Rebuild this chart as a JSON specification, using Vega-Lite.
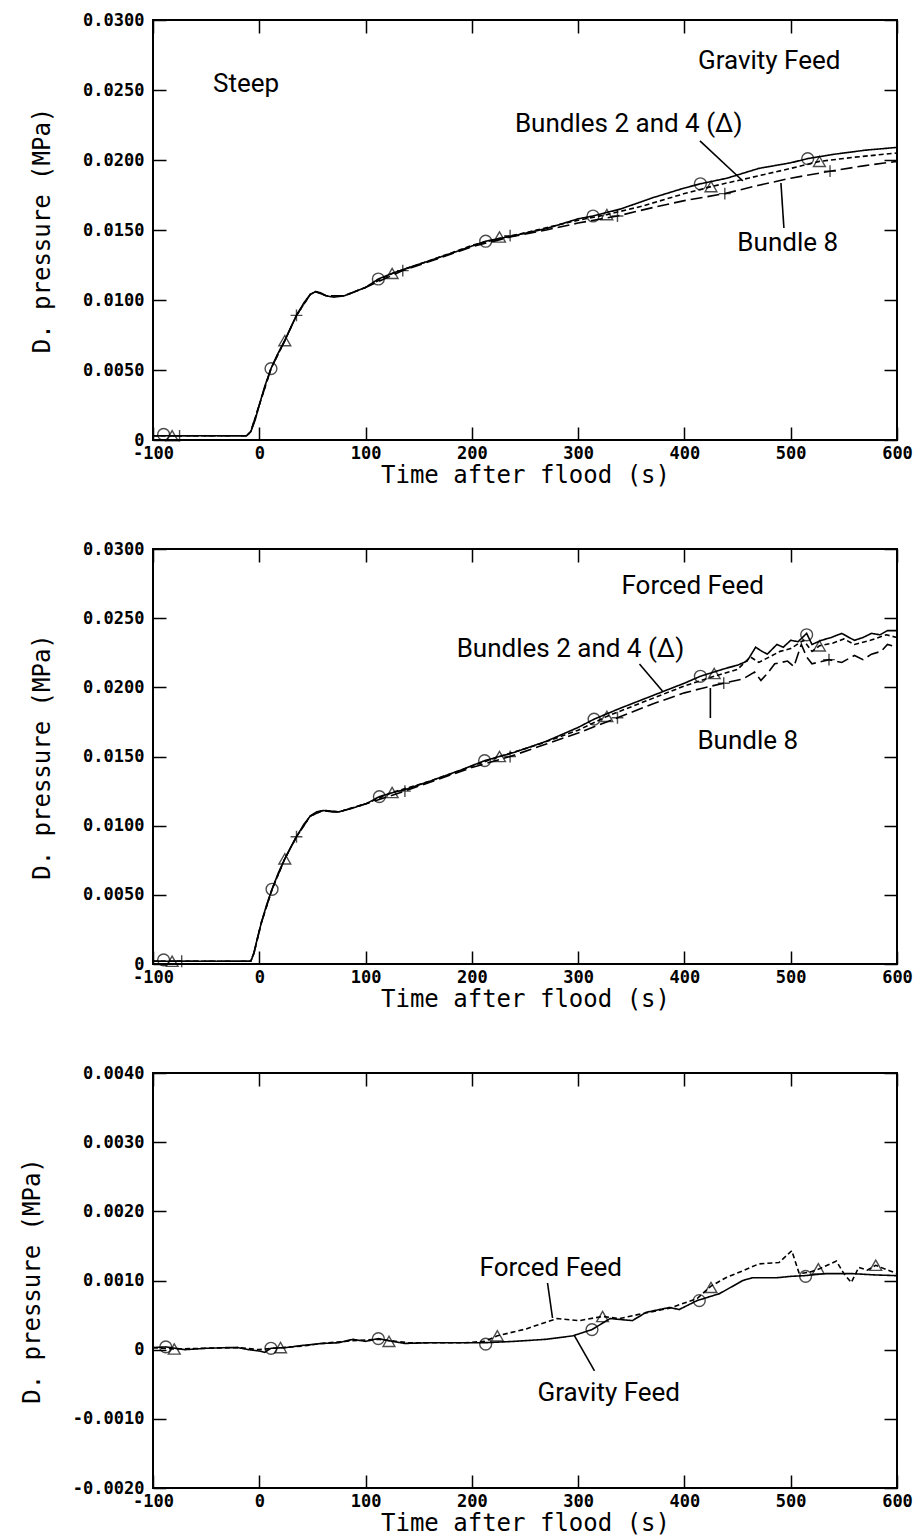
{
  "$schema": "https://vega.github.io/schema/vega-lite/v6.json",
  "background": "white",
  "padding": {"left": 19, "top": 10, "right": 10, "bottom": 10},
  "spacing": 109,
  "bounds": "flush",
  "datasets": {
    "p1lines": [
      {"s": "Bundle 2", "t": -100, "p": 0.0003}, {"s": "Bundle 2", "t": -50, "p": 0.0003}, {"s": "Bundle 2", "t": -12, "p": 0.0003},
      {"s": "Bundle 2", "t": -8, "p": 0.0006}, {"s": "Bundle 2", "t": -4, "p": 0.0014}, {"s": "Bundle 2", "t": 0, "p": 0.0025},
      {"s": "Bundle 2", "t": 5, "p": 0.0038}, {"s": "Bundle 2", "t": 11, "p": 0.0051}, {"s": "Bundle 2", "t": 17, "p": 0.0061},
      {"s": "Bundle 2", "t": 24, "p": 0.0071}, {"s": "Bundle 2", "t": 30, "p": 0.0081}, {"s": "Bundle 2", "t": 35, "p": 0.0089},
      {"s": "Bundle 2", "t": 42, "p": 0.0098}, {"s": "Bundle 2", "t": 48, "p": 0.0104}, {"s": "Bundle 2", "t": 53, "p": 0.0106},
      {"s": "Bundle 2", "t": 58, "p": 0.0105}, {"s": "Bundle 2", "t": 63, "p": 0.0103}, {"s": "Bundle 2", "t": 70, "p": 0.0102},
      {"s": "Bundle 2", "t": 80, "p": 0.0103}, {"s": "Bundle 2", "t": 90, "p": 0.0106}, {"s": "Bundle 2", "t": 100, "p": 0.0109},
      {"s": "Bundle 2", "t": 112, "p": 0.0115}, {"s": "Bundle 2", "t": 125, "p": 0.0119}, {"s": "Bundle 2", "t": 140, "p": 0.0123},
      {"s": "Bundle 2", "t": 160, "p": 0.0128}, {"s": "Bundle 2", "t": 187, "p": 0.0135}, {"s": "Bundle 2", "t": 213, "p": 0.0142},
      {"s": "Bundle 2", "t": 240, "p": 0.0146}, {"s": "Bundle 2", "t": 270, "p": 0.0151}, {"s": "Bundle 2", "t": 300, "p": 0.0158},
      {"s": "Bundle 2", "t": 314, "p": 0.0160}, {"s": "Bundle 2", "t": 340, "p": 0.0165}, {"s": "Bundle 2", "t": 370, "p": 0.0173},
      {"s": "Bundle 2", "t": 400, "p": 0.0180}, {"s": "Bundle 2", "t": 415, "p": 0.0183}, {"s": "Bundle 2", "t": 440, "p": 0.0187},
      {"s": "Bundle 2", "t": 470, "p": 0.0194}, {"s": "Bundle 2", "t": 500, "p": 0.0198}, {"s": "Bundle 2", "t": 516, "p": 0.0201},
      {"s": "Bundle 2", "t": 540, "p": 0.0204}, {"s": "Bundle 2", "t": 570, "p": 0.0207}, {"s": "Bundle 2", "t": 585, "p": 0.0208},
      {"s": "Bundle 2", "t": 600, "p": 0.0209},
      {"s": "Bundle 4", "t": -100, "p": 0.0003}, {"s": "Bundle 4", "t": -12, "p": 0.0003}, {"s": "Bundle 4", "t": -8, "p": 0.0006},
      {"s": "Bundle 4", "t": 0, "p": 0.0025}, {"s": "Bundle 4", "t": 11, "p": 0.0051}, {"s": "Bundle 4", "t": 24, "p": 0.0071},
      {"s": "Bundle 4", "t": 35, "p": 0.0089}, {"s": "Bundle 4", "t": 48, "p": 0.0104}, {"s": "Bundle 4", "t": 53, "p": 0.0106},
      {"s": "Bundle 4", "t": 63, "p": 0.0103}, {"s": "Bundle 4", "t": 80, "p": 0.0103}, {"s": "Bundle 4", "t": 100, "p": 0.0109},
      {"s": "Bundle 4", "t": 125, "p": 0.0119}, {"s": "Bundle 4", "t": 160, "p": 0.0128}, {"s": "Bundle 4", "t": 200, "p": 0.0139},
      {"s": "Bundle 4", "t": 226, "p": 0.0144}, {"s": "Bundle 4", "t": 250, "p": 0.0148}, {"s": "Bundle 4", "t": 300, "p": 0.0157},
      {"s": "Bundle 4", "t": 327, "p": 0.0161}, {"s": "Bundle 4", "t": 360, "p": 0.0167}, {"s": "Bundle 4", "t": 400, "p": 0.0176},
      {"s": "Bundle 4", "t": 425, "p": 0.0181}, {"s": "Bundle 4", "t": 460, "p": 0.0187}, {"s": "Bundle 4", "t": 500, "p": 0.0194},
      {"s": "Bundle 4", "t": 527, "p": 0.0199}, {"s": "Bundle 4", "t": 560, "p": 0.0202}, {"s": "Bundle 4", "t": 600, "p": 0.0205},
      {"s": "Bundle 8", "t": -100, "p": 0.0003}, {"s": "Bundle 8", "t": -12, "p": 0.0003}, {"s": "Bundle 8", "t": -8, "p": 0.0006},
      {"s": "Bundle 8", "t": 0, "p": 0.0025}, {"s": "Bundle 8", "t": 11, "p": 0.0051}, {"s": "Bundle 8", "t": 24, "p": 0.0071},
      {"s": "Bundle 8", "t": 35, "p": 0.0089}, {"s": "Bundle 8", "t": 48, "p": 0.0104}, {"s": "Bundle 8", "t": 53, "p": 0.0106},
      {"s": "Bundle 8", "t": 63, "p": 0.0103}, {"s": "Bundle 8", "t": 80, "p": 0.0103}, {"s": "Bundle 8", "t": 100, "p": 0.0109},
      {"s": "Bundle 8", "t": 135, "p": 0.0121}, {"s": "Bundle 8", "t": 170, "p": 0.0130}, {"s": "Bundle 8", "t": 200, "p": 0.0138},
      {"s": "Bundle 8", "t": 236, "p": 0.0145}, {"s": "Bundle 8", "t": 270, "p": 0.0150}, {"s": "Bundle 8", "t": 300, "p": 0.0155},
      {"s": "Bundle 8", "t": 337, "p": 0.0160}, {"s": "Bundle 8", "t": 370, "p": 0.0166}, {"s": "Bundle 8", "t": 400, "p": 0.0171},
      {"s": "Bundle 8", "t": 438, "p": 0.0176}, {"s": "Bundle 8", "t": 470, "p": 0.0182}, {"s": "Bundle 8", "t": 500, "p": 0.0187},
      {"s": "Bundle 8", "t": 537, "p": 0.0192}, {"s": "Bundle 8", "t": 570, "p": 0.0196}, {"s": "Bundle 8", "t": 600, "p": 0.0199}
    ],
    "p1marks": [
      {"s": "Bundle 2", "t": -90, "p": 0.0004}, {"s": "Bundle 2", "t": 11, "p": 0.0051}, {"s": "Bundle 2", "t": 112, "p": 0.0115},
      {"s": "Bundle 2", "t": 213, "p": 0.0142}, {"s": "Bundle 2", "t": 314, "p": 0.0160}, {"s": "Bundle 2", "t": 415, "p": 0.0183},
      {"s": "Bundle 2", "t": 516, "p": 0.0201},
      {"s": "Bundle 4", "t": -82, "p": 0.0003}, {"s": "Bundle 4", "t": 24, "p": 0.0071}, {"s": "Bundle 4", "t": 125, "p": 0.0119},
      {"s": "Bundle 4", "t": 226, "p": 0.0145}, {"s": "Bundle 4", "t": 327, "p": 0.0161}, {"s": "Bundle 4", "t": 425, "p": 0.0181},
      {"s": "Bundle 4", "t": 527, "p": 0.0199},
      {"s": "Bundle 8", "t": -75, "p": 0.0003}, {"s": "Bundle 8", "t": 35, "p": 0.0089}, {"s": "Bundle 8", "t": 135, "p": 0.0121},
      {"s": "Bundle 8", "t": 236, "p": 0.0146}, {"s": "Bundle 8", "t": 337, "p": 0.0160}, {"s": "Bundle 8", "t": 438, "p": 0.0176},
      {"s": "Bundle 8", "t": 537, "p": 0.0192}
    ],
    "p1text": [
      {"label": "Steep", "t": -43.6, "p": 0.0254},
      {"label": "Gravity Feed", "t": 412.7, "p": 0.0271},
      {"label": "Bundles 2 and 4 (Δ)", "t": 240.5, "p": 0.0226},
      {"label": "Bundle 8", "t": 449.8, "p": 0.0141}
    ],
    "p1lead": [
      {"t": 414.6, "p": 0.02136, "t2": 455, "p2": 0.0185},
      {"t": 490.8, "p": 0.01836, "t2": 493.6, "p2": 0.01514}
    ],
    "p2lines": [
      {"s": "Bundle 2", "t": -100, "p": 0.0002}, {"s": "Bundle 2", "t": -50, "p": 0.0002}, {"s": "Bundle 2", "t": -8, "p": 0.0002},
      {"s": "Bundle 2", "t": -5, "p": 0.0008}, {"s": "Bundle 2", "t": -2, "p": 0.0018}, {"s": "Bundle 2", "t": 2, "p": 0.0030},
      {"s": "Bundle 2", "t": 7, "p": 0.0043}, {"s": "Bundle 2", "t": 12, "p": 0.0054}, {"s": "Bundle 2", "t": 18, "p": 0.0066},
      {"s": "Bundle 2", "t": 24, "p": 0.0076}, {"s": "Bundle 2", "t": 30, "p": 0.0085}, {"s": "Bundle 2", "t": 35, "p": 0.0092},
      {"s": "Bundle 2", "t": 42, "p": 0.0101}, {"s": "Bundle 2", "t": 48, "p": 0.0107}, {"s": "Bundle 2", "t": 54, "p": 0.0110},
      {"s": "Bundle 2", "t": 60, "p": 0.0111}, {"s": "Bundle 2", "t": 68, "p": 0.0110}, {"s": "Bundle 2", "t": 75, "p": 0.0110},
      {"s": "Bundle 2", "t": 85, "p": 0.0112}, {"s": "Bundle 2", "t": 101, "p": 0.0116}, {"s": "Bundle 2", "t": 113, "p": 0.0121},
      {"s": "Bundle 2", "t": 126, "p": 0.0124}, {"s": "Bundle 2", "t": 137, "p": 0.0126}, {"s": "Bundle 2", "t": 160, "p": 0.0132},
      {"s": "Bundle 2", "t": 189, "p": 0.0140}, {"s": "Bundle 2", "t": 212, "p": 0.0147}, {"s": "Bundle 2", "t": 240, "p": 0.0153},
      {"s": "Bundle 2", "t": 270, "p": 0.0161}, {"s": "Bundle 2", "t": 300, "p": 0.0171}, {"s": "Bundle 2", "t": 315, "p": 0.0177},
      {"s": "Bundle 2", "t": 340, "p": 0.0185}, {"s": "Bundle 2", "t": 370, "p": 0.0194}, {"s": "Bundle 2", "t": 400, "p": 0.0203},
      {"s": "Bundle 2", "t": 415, "p": 0.0208}, {"s": "Bundle 2", "t": 440, "p": 0.0214}, {"s": "Bundle 2", "t": 450, "p": 0.0216},
      {"s": "Bundle 2", "t": 459, "p": 0.0219}, {"s": "Bundle 2", "t": 467, "p": 0.0229}, {"s": "Bundle 2", "t": 473, "p": 0.0226},
      {"s": "Bundle 2", "t": 478, "p": 0.0224}, {"s": "Bundle 2", "t": 487, "p": 0.0231}, {"s": "Bundle 2", "t": 493, "p": 0.0229},
      {"s": "Bundle 2", "t": 500, "p": 0.0234}, {"s": "Bundle 2", "t": 507, "p": 0.0233}, {"s": "Bundle 2", "t": 515, "p": 0.0239},
      {"s": "Bundle 2", "t": 520, "p": 0.0231}, {"s": "Bundle 2", "t": 529, "p": 0.0234}, {"s": "Bundle 2", "t": 538, "p": 0.0236},
      {"s": "Bundle 2", "t": 548, "p": 0.0239}, {"s": "Bundle 2", "t": 555, "p": 0.0236}, {"s": "Bundle 2", "t": 560, "p": 0.0234},
      {"s": "Bundle 2", "t": 568, "p": 0.0236}, {"s": "Bundle 2", "t": 576, "p": 0.0239}, {"s": "Bundle 2", "t": 584, "p": 0.0238},
      {"s": "Bundle 2", "t": 591, "p": 0.0241}, {"s": "Bundle 2", "t": 600, "p": 0.0241},
      {"s": "Bundle 4", "t": -100, "p": 0.0002}, {"s": "Bundle 4", "t": -8, "p": 0.0002}, {"s": "Bundle 4", "t": -5, "p": 0.0008},
      {"s": "Bundle 4", "t": 2, "p": 0.0030}, {"s": "Bundle 4", "t": 12, "p": 0.0054}, {"s": "Bundle 4", "t": 24, "p": 0.0076},
      {"s": "Bundle 4", "t": 35, "p": 0.0092}, {"s": "Bundle 4", "t": 48, "p": 0.0107}, {"s": "Bundle 4", "t": 60, "p": 0.0111},
      {"s": "Bundle 4", "t": 75, "p": 0.0110}, {"s": "Bundle 4", "t": 101, "p": 0.0116}, {"s": "Bundle 4", "t": 125, "p": 0.0124},
      {"s": "Bundle 4", "t": 160, "p": 0.0132}, {"s": "Bundle 4", "t": 200, "p": 0.0143}, {"s": "Bundle 4", "t": 226, "p": 0.0150},
      {"s": "Bundle 4", "t": 260, "p": 0.0158}, {"s": "Bundle 4", "t": 300, "p": 0.0169}, {"s": "Bundle 4", "t": 327, "p": 0.0179},
      {"s": "Bundle 4", "t": 360, "p": 0.0189}, {"s": "Bundle 4", "t": 400, "p": 0.0201}, {"s": "Bundle 4", "t": 428, "p": 0.0208},
      {"s": "Bundle 4", "t": 450, "p": 0.0213}, {"s": "Bundle 4", "t": 462, "p": 0.0222}, {"s": "Bundle 4", "t": 470, "p": 0.0218},
      {"s": "Bundle 4", "t": 480, "p": 0.0222}, {"s": "Bundle 4", "t": 490, "p": 0.0226}, {"s": "Bundle 4", "t": 500, "p": 0.0228},
      {"s": "Bundle 4", "t": 512, "p": 0.0234}, {"s": "Bundle 4", "t": 520, "p": 0.0226}, {"s": "Bundle 4", "t": 527, "p": 0.0230},
      {"s": "Bundle 4", "t": 540, "p": 0.0232}, {"s": "Bundle 4", "t": 550, "p": 0.0235}, {"s": "Bundle 4", "t": 560, "p": 0.0231},
      {"s": "Bundle 4", "t": 575, "p": 0.0234}, {"s": "Bundle 4", "t": 590, "p": 0.0238}, {"s": "Bundle 4", "t": 600, "p": 0.0236},
      {"s": "Bundle 8", "t": -100, "p": 0.0002}, {"s": "Bundle 8", "t": -8, "p": 0.0002}, {"s": "Bundle 8", "t": -5, "p": 0.0008},
      {"s": "Bundle 8", "t": 2, "p": 0.0030}, {"s": "Bundle 8", "t": 12, "p": 0.0054}, {"s": "Bundle 8", "t": 24, "p": 0.0076},
      {"s": "Bundle 8", "t": 35, "p": 0.0092}, {"s": "Bundle 8", "t": 48, "p": 0.0107}, {"s": "Bundle 8", "t": 60, "p": 0.0111},
      {"s": "Bundle 8", "t": 75, "p": 0.0110}, {"s": "Bundle 8", "t": 101, "p": 0.0116}, {"s": "Bundle 8", "t": 137, "p": 0.0125},
      {"s": "Bundle 8", "t": 170, "p": 0.0134}, {"s": "Bundle 8", "t": 200, "p": 0.0142}, {"s": "Bundle 8", "t": 236, "p": 0.0150},
      {"s": "Bundle 8", "t": 270, "p": 0.0159}, {"s": "Bundle 8", "t": 300, "p": 0.0167}, {"s": "Bundle 8", "t": 337, "p": 0.0178},
      {"s": "Bundle 8", "t": 370, "p": 0.0188}, {"s": "Bundle 8", "t": 400, "p": 0.0196}, {"s": "Bundle 8", "t": 415, "p": 0.0199},
      {"s": "Bundle 8", "t": 437, "p": 0.0203}, {"s": "Bundle 8", "t": 455, "p": 0.0206}, {"s": "Bundle 8", "t": 466, "p": 0.0211},
      {"s": "Bundle 8", "t": 472, "p": 0.0205}, {"s": "Bundle 8", "t": 478, "p": 0.0210}, {"s": "Bundle 8", "t": 485, "p": 0.0217},
      {"s": "Bundle 8", "t": 497, "p": 0.0219}, {"s": "Bundle 8", "t": 503, "p": 0.0215}, {"s": "Bundle 8", "t": 510, "p": 0.0231},
      {"s": "Bundle 8", "t": 515, "p": 0.0222}, {"s": "Bundle 8", "t": 520, "p": 0.0217}, {"s": "Bundle 8", "t": 536, "p": 0.0220},
      {"s": "Bundle 8", "t": 548, "p": 0.0218}, {"s": "Bundle 8", "t": 560, "p": 0.0223}, {"s": "Bundle 8", "t": 568, "p": 0.0220},
      {"s": "Bundle 8", "t": 576, "p": 0.0224}, {"s": "Bundle 8", "t": 585, "p": 0.0226}, {"s": "Bundle 8", "t": 591, "p": 0.0231},
      {"s": "Bundle 8", "t": 600, "p": 0.0229}
    ],
    "p2marks": [
      {"s": "Bundle 2", "t": -90, "p": 0.0003}, {"s": "Bundle 2", "t": 12, "p": 0.0054}, {"s": "Bundle 2", "t": 113, "p": 0.0121},
      {"s": "Bundle 2", "t": 212, "p": 0.0147}, {"s": "Bundle 2", "t": 315, "p": 0.0177}, {"s": "Bundle 2", "t": 415, "p": 0.0208},
      {"s": "Bundle 2", "t": 515, "p": 0.0238},
      {"s": "Bundle 4", "t": -82, "p": 0.0002}, {"s": "Bundle 4", "t": 24, "p": 0.0076}, {"s": "Bundle 4", "t": 125, "p": 0.0124},
      {"s": "Bundle 4", "t": 226, "p": 0.0150}, {"s": "Bundle 4", "t": 327, "p": 0.0179}, {"s": "Bundle 4", "t": 428, "p": 0.0210},
      {"s": "Bundle 4", "t": 527, "p": 0.0230},
      {"s": "Bundle 8", "t": -73, "p": 0.0002}, {"s": "Bundle 8", "t": 35, "p": 0.0092}, {"s": "Bundle 8", "t": 137, "p": 0.0125},
      {"s": "Bundle 8", "t": 236, "p": 0.0150}, {"s": "Bundle 8", "t": 337, "p": 0.0178}, {"s": "Bundle 8", "t": 437, "p": 0.0203},
      {"s": "Bundle 8", "t": 536, "p": 0.0220}
    ],
    "p2text": [
      {"label": "Forced Feed", "t": 340.8, "p": 0.0273},
      {"label": "Bundles 2 and 4 (Δ)", "t": 185.7, "p": 0.0228},
      {"label": "Bundle 8", "t": 412.2, "p": 0.0161}
    ],
    "p2lead": [
      {"t": 357.7, "p": 0.02169, "t2": 379.3, "p2": 0.01974},
      {"t": 424.4, "p": 0.01995, "t2": 424.4, "p2": 0.01778}
    ],
    "p3lines": [
      {"s": "Gravity Feed", "t": -100, "p": 0.00003}, {"s": "Gravity Feed", "t": -88, "p": 0.00004}, {"s": "Gravity Feed", "t": -70, "p": 0.0},
      {"s": "Gravity Feed", "t": -50, "p": 0.00002}, {"s": "Gravity Feed", "t": -30, "p": 0.00003}, {"s": "Gravity Feed", "t": -20, "p": 0.00003},
      {"s": "Gravity Feed", "t": -10, "p": 0.0}, {"s": "Gravity Feed", "t": 0, "p": -0.00002}, {"s": "Gravity Feed", "t": 5, "p": -0.00004},
      {"s": "Gravity Feed", "t": 11, "p": 0.00002}, {"s": "Gravity Feed", "t": 25, "p": 0.00003}, {"s": "Gravity Feed", "t": 40, "p": 0.00006},
      {"s": "Gravity Feed", "t": 59, "p": 0.00009}, {"s": "Gravity Feed", "t": 75, "p": 0.0001}, {"s": "Gravity Feed", "t": 88, "p": 0.00015},
      {"s": "Gravity Feed", "t": 100, "p": 0.00012}, {"s": "Gravity Feed", "t": 112, "p": 0.00016}, {"s": "Gravity Feed", "t": 125, "p": 0.00012},
      {"s": "Gravity Feed", "t": 137, "p": 0.00009}, {"s": "Gravity Feed", "t": 160, "p": 0.0001}, {"s": "Gravity Feed", "t": 193, "p": 0.0001},
      {"s": "Gravity Feed", "t": 212, "p": 0.0001}, {"s": "Gravity Feed", "t": 240, "p": 0.00012}, {"s": "Gravity Feed", "t": 270, "p": 0.00015},
      {"s": "Gravity Feed", "t": 295, "p": 0.0002}, {"s": "Gravity Feed", "t": 313, "p": 0.00029}, {"s": "Gravity Feed", "t": 330, "p": 0.00045},
      {"s": "Gravity Feed", "t": 351, "p": 0.00042}, {"s": "Gravity Feed", "t": 364, "p": 0.00054}, {"s": "Gravity Feed", "t": 386, "p": 0.00061},
      {"s": "Gravity Feed", "t": 395, "p": 0.00058}, {"s": "Gravity Feed", "t": 412, "p": 0.00071}, {"s": "Gravity Feed", "t": 433, "p": 0.00081},
      {"s": "Gravity Feed", "t": 455, "p": 0.001}, {"s": "Gravity Feed", "t": 464, "p": 0.00104}, {"s": "Gravity Feed", "t": 487, "p": 0.00104},
      {"s": "Gravity Feed", "t": 500, "p": 0.00106}, {"s": "Gravity Feed", "t": 513, "p": 0.00107}, {"s": "Gravity Feed", "t": 533, "p": 0.0011},
      {"s": "Gravity Feed", "t": 557, "p": 0.0011}, {"s": "Gravity Feed", "t": 580, "p": 0.00108}, {"s": "Gravity Feed", "t": 600, "p": 0.00107},
      {"s": "Forced Feed", "t": -100, "p": 0.00003}, {"s": "Forced Feed", "t": -80, "p": 0.00001}, {"s": "Forced Feed", "t": -50, "p": 0.00002},
      {"s": "Forced Feed", "t": -20, "p": 0.00003}, {"s": "Forced Feed", "t": 0, "p": 0.0}, {"s": "Forced Feed", "t": 13, "p": 0.00002},
      {"s": "Forced Feed", "t": 40, "p": 0.00005}, {"s": "Forced Feed", "t": 59, "p": 0.00009}, {"s": "Forced Feed", "t": 88, "p": 0.00013},
      {"s": "Forced Feed", "t": 112, "p": 0.00015}, {"s": "Forced Feed", "t": 140, "p": 0.0001}, {"s": "Forced Feed", "t": 193, "p": 0.0001},
      {"s": "Forced Feed", "t": 212, "p": 0.00012}, {"s": "Forced Feed", "t": 224, "p": 0.0002}, {"s": "Forced Feed", "t": 251, "p": 0.0003},
      {"s": "Forced Feed", "t": 280, "p": 0.00045}, {"s": "Forced Feed", "t": 301, "p": 0.00042}, {"s": "Forced Feed", "t": 323, "p": 0.00048},
      {"s": "Forced Feed", "t": 339, "p": 0.00045}, {"s": "Forced Feed", "t": 360, "p": 0.00052}, {"s": "Forced Feed", "t": 386, "p": 0.0006},
      {"s": "Forced Feed", "t": 412, "p": 0.00074}, {"s": "Forced Feed", "t": 425, "p": 0.00092}, {"s": "Forced Feed", "t": 439, "p": 0.00104},
      {"s": "Forced Feed", "t": 455, "p": 0.00114}, {"s": "Forced Feed", "t": 470, "p": 0.00124}, {"s": "Forced Feed", "t": 489, "p": 0.00126},
      {"s": "Forced Feed", "t": 501, "p": 0.00143}, {"s": "Forced Feed", "t": 508, "p": 0.0011}, {"s": "Forced Feed", "t": 518, "p": 0.00112},
      {"s": "Forced Feed", "t": 527, "p": 0.00117}, {"s": "Forced Feed", "t": 543, "p": 0.00128}, {"s": "Forced Feed", "t": 550, "p": 0.0011},
      {"s": "Forced Feed", "t": 557, "p": 0.00097}, {"s": "Forced Feed", "t": 564, "p": 0.00119}, {"s": "Forced Feed", "t": 572, "p": 0.00115},
      {"s": "Forced Feed", "t": 580, "p": 0.00122}, {"s": "Forced Feed", "t": 593, "p": 0.00114}, {"s": "Forced Feed", "t": 600, "p": 0.0011}
    ],
    "p3marks": [
      {"s": "Gravity Feed", "t": -88, "p": 0.00004}, {"s": "Gravity Feed", "t": 11, "p": 0.00002}, {"s": "Gravity Feed", "t": 112, "p": 0.00016},
      {"s": "Gravity Feed", "t": 213, "p": 0.00008}, {"s": "Gravity Feed", "t": 313, "p": 0.00029}, {"s": "Gravity Feed", "t": 414, "p": 0.00071},
      {"s": "Gravity Feed", "t": 514, "p": 0.00106},
      {"s": "Forced Feed", "t": -80, "p": 0.00001}, {"s": "Forced Feed", "t": 20, "p": 0.00003}, {"s": "Forced Feed", "t": 122, "p": 0.00012},
      {"s": "Forced Feed", "t": 224, "p": 0.0002}, {"s": "Forced Feed", "t": 323, "p": 0.00048}, {"s": "Forced Feed", "t": 425, "p": 0.0009},
      {"s": "Forced Feed", "t": 526, "p": 0.00117}, {"s": "Forced Feed", "t": 580, "p": 0.00122}
    ],
    "p3text": [
      {"label": "Forced Feed", "t": 207.3, "p": 0.00118},
      {"label": "Gravity Feed", "t": 261.8, "p": -0.00063}
    ],
    "p3lead": [
      {"t": 271.2, "p": 0.000964, "t2": 275.9, "p2": 0.000458},
      {"t": 296.6, "p": 0.000198, "t2": 315.4, "p2": -0.000308}
    ]
  },
  "vconcat": [
    {
      "width": 744, "height": 420,
      "resolve": {"axis": {"x": "independent", "y": "independent"}},
      "layer": [
        {
          "data": {"name": "p1lines"},
          "mark": {"type": "line", "color": "black", "strokeWidth": 1.6, "clip": true},
          "encoding": {
            "x": {"field": "t", "type": "quantitative", "scale": {"domain": [-100, 600], "nice": false, "zero": false},
                  "axis": {"orient": "bottom", "values": [-100, 0, 100, 200, 300, 400, 500, 600], "title": "Time after flood (s)", "labelExpr": "replace(datum.label, '−', '-')"}},
            "y": {"field": "p", "type": "quantitative", "scale": {"domain": [0, 0.03], "nice": false, "zero": false},
                  "axis": {"orient": "left", "values": [0, 0.005, 0.01, 0.015, 0.02, 0.025, 0.03], "title": "D. pressure (MPa)", "labelExpr": "datum.value == 0 ? '0' : format(datum.value, '.4f')"}},
            "strokeDash": {"field": "s", "type": "nominal", "scale": {"domain": ["Bundle 2", "Bundle 4", "Bundle 8"], "range": [[1, 0], [5, 3], [12, 5]]}, "legend": null}
          }
        },
        {
          "data": {"name": "p1marks"},
          "mark": {"type": "point", "filled": false, "color": "black", "strokeWidth": 1.4, "size": 140},
          "encoding": {
            "x": {"field": "t", "type": "quantitative", "scale": {"domain": [-100, 600], "nice": false, "zero": false},
                  "axis": {"orient": "top", "values": [-100, 0, 100, 200, 300, 400, 500, 600], "labels": false, "title": null}},
            "y": {"field": "p", "type": "quantitative", "scale": {"domain": [0, 0.03], "nice": false, "zero": false},
                  "axis": {"orient": "right", "values": [0, 0.005, 0.01, 0.015, 0.02, 0.025, 0.03], "labels": false, "title": null}},
            "shape": {"field": "s", "type": "nominal", "scale": {"domain": ["Bundle 2", "Bundle 4", "Bundle 8"], "range": ["circle", "triangle-up", "M-1,0H1M0,-1V1"]}, "legend": null}
          }
        },
        {
          "data": {"name": "p1lead"},
          "mark": {"type": "rule", "color": "black", "strokeWidth": 1.6},
          "encoding": {
            "x": {"field": "t", "type": "quantitative", "axis": null},
            "y": {"field": "p", "type": "quantitative", "axis": null},
            "x2": {"field": "t2"}, "y2": {"field": "p2"}
          }
        },
        {
          "data": {"name": "p1text"},
          "mark": {"type": "text", "align": "left", "baseline": "middle", "font": "Roboto", "fontSize": 26, "color": "black"},
          "encoding": {
            "x": {"field": "t", "type": "quantitative", "axis": null},
            "y": {"field": "p", "type": "quantitative", "axis": null},
            "text": {"field": "label"}
          }
        }
      ]
    },
    {
      "width": 744, "height": 415,
      "resolve": {"axis": {"x": "independent", "y": "independent"}},
      "layer": [
        {
          "data": {"name": "p2lines"},
          "mark": {"type": "line", "color": "black", "strokeWidth": 1.6, "clip": true},
          "encoding": {
            "x": {"field": "t", "type": "quantitative", "scale": {"domain": [-100, 600], "nice": false, "zero": false},
                  "axis": {"orient": "bottom", "values": [-100, 0, 100, 200, 300, 400, 500, 600], "title": "Time after flood (s)", "labelExpr": "replace(datum.label, '−', '-')"}},
            "y": {"field": "p", "type": "quantitative", "scale": {"domain": [0, 0.03], "nice": false, "zero": false},
                  "axis": {"orient": "left", "values": [0, 0.005, 0.01, 0.015, 0.02, 0.025, 0.03], "title": "D. pressure (MPa)", "labelExpr": "datum.value == 0 ? '0' : format(datum.value, '.4f')"}},
            "strokeDash": {"field": "s", "type": "nominal", "scale": {"domain": ["Bundle 2", "Bundle 4", "Bundle 8"], "range": [[1, 0], [5, 3], [12, 5]]}, "legend": null}
          }
        },
        {
          "data": {"name": "p2marks"},
          "mark": {"type": "point", "filled": false, "color": "black", "strokeWidth": 1.4, "size": 140},
          "encoding": {
            "x": {"field": "t", "type": "quantitative", "scale": {"domain": [-100, 600], "nice": false, "zero": false},
                  "axis": {"orient": "top", "values": [-100, 0, 100, 200, 300, 400, 500, 600], "labels": false, "title": null}},
            "y": {"field": "p", "type": "quantitative", "scale": {"domain": [0, 0.03], "nice": false, "zero": false},
                  "axis": {"orient": "right", "values": [0, 0.005, 0.01, 0.015, 0.02, 0.025, 0.03], "labels": false, "title": null}},
            "shape": {"field": "s", "type": "nominal", "scale": {"domain": ["Bundle 2", "Bundle 4", "Bundle 8"], "range": ["circle", "triangle-up", "M-1,0H1M0,-1V1"]}, "legend": null}
          }
        },
        {
          "data": {"name": "p2lead"},
          "mark": {"type": "rule", "color": "black", "strokeWidth": 1.6},
          "encoding": {
            "x": {"field": "t", "type": "quantitative", "axis": null},
            "y": {"field": "p", "type": "quantitative", "axis": null},
            "x2": {"field": "t2"}, "y2": {"field": "p2"}
          }
        },
        {
          "data": {"name": "p2text"},
          "mark": {"type": "text", "align": "left", "baseline": "middle", "font": "Roboto", "fontSize": 26, "color": "black"},
          "encoding": {
            "x": {"field": "t", "type": "quantitative", "axis": null},
            "y": {"field": "p", "type": "quantitative", "axis": null},
            "text": {"field": "label"}
          }
        }
      ]
    },
    {
      "width": 744, "height": 415,
      "resolve": {"axis": {"x": "independent", "y": "independent"}},
      "layer": [
        {
          "data": {"name": "p3lines"},
          "mark": {"type": "line", "color": "black", "strokeWidth": 1.6, "clip": true},
          "encoding": {
            "x": {"field": "t", "type": "quantitative", "scale": {"domain": [-100, 600], "nice": false, "zero": false},
                  "axis": {"orient": "bottom", "values": [-100, 0, 100, 200, 300, 400, 500, 600], "title": "Time after flood (s)", "labelExpr": "replace(datum.label, '−', '-')"}},
            "y": {"field": "p", "type": "quantitative", "scale": {"domain": [-0.002, 0.004], "nice": false, "zero": false},
                  "axis": {"orient": "left", "values": [-0.002, -0.001, 0, 0.001, 0.002, 0.003, 0.004], "title": "D. pressure (MPa)", "labelExpr": "datum.value == 0 ? '0' : replace(format(datum.value, '.4f'), '−', '-')"}},
            "strokeDash": {"field": "s", "type": "nominal", "scale": {"domain": ["Gravity Feed", "Forced Feed"], "range": [[1, 0], [6, 4]]}, "legend": null}
          }
        },
        {
          "data": {"name": "p3marks"},
          "mark": {"type": "point", "filled": false, "color": "black", "strokeWidth": 1.4, "size": 140},
          "encoding": {
            "x": {"field": "t", "type": "quantitative", "scale": {"domain": [-100, 600], "nice": false, "zero": false},
                  "axis": {"orient": "top", "values": [-100, 0, 100, 200, 300, 400, 500, 600], "labels": false, "title": null}},
            "y": {"field": "p", "type": "quantitative", "scale": {"domain": [-0.002, 0.004], "nice": false, "zero": false},
                  "axis": {"orient": "right", "values": [-0.002, -0.001, 0, 0.001, 0.002, 0.003, 0.004], "labels": false, "title": null}},
            "shape": {"field": "s", "type": "nominal", "scale": {"domain": ["Gravity Feed", "Forced Feed"], "range": ["circle", "triangle-up"]}, "legend": null}
          }
        },
        {
          "data": {"name": "p3lead"},
          "mark": {"type": "rule", "color": "black", "strokeWidth": 1.6},
          "encoding": {
            "x": {"field": "t", "type": "quantitative", "axis": null},
            "y": {"field": "p", "type": "quantitative", "axis": null},
            "x2": {"field": "t2"}, "y2": {"field": "p2"}
          }
        },
        {
          "data": {"name": "p3text"},
          "mark": {"type": "text", "align": "left", "baseline": "middle", "font": "Roboto", "fontSize": 26, "color": "black"},
          "encoding": {
            "x": {"field": "t", "type": "quantitative", "axis": null},
            "y": {"field": "p", "type": "quantitative", "axis": null},
            "text": {"field": "label"}
          }
        }
      ]
    }
  ],
  "config": {
    "view": {"stroke": "black", "strokeWidth": 2},
    "axis": {
      "domain": false, "grid": false,
      "tickColor": "black", "tickWidth": 1.5, "tickSize": -13,
      "labelColor": "black", "labelFont": "DejaVu Sans Mono", "labelFontSize": 17, "labelFontWeight": "bold",
      "labelFlush": false, "labelOverlap": false,
      "titleFont": "DejaVu Sans Mono", "titleFontSize": 24, "titleFontWeight": "normal", "titleColor": "black"
    },
    "axisX": {"labelPadding": 18, "titlePadding": 2},
    "axisY": {"labelPadding": 22, "titlePadding": 28}
  }
}
